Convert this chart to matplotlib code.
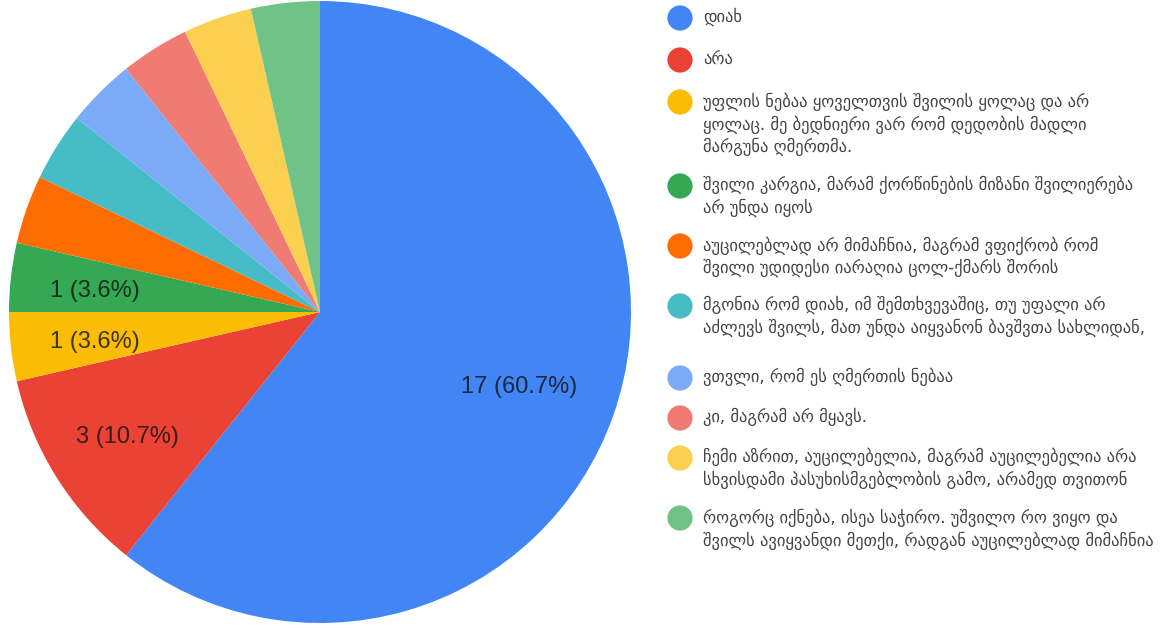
import numpy as np
import matplotlib
matplotlib.use('Agg')
from matplotlib import pyplot as plt

plt.rcParams['font.family'] = ['DejaVu Sans']

# მონაცემები
labels = [
    'დიახ',
    'არა',
    'უფლის ნებაა ყოველთვის შვილის ყოლაც და არ\nყოლაც. მე ბედნიერი ვარ რომ დედობის მადლი\nმარგუნა ღმერთმა.',
    'შვილი კარგია, მარამ ქორწინების მიზანი შვილიერება\nარ უნდა იყოს',
    'აუცილებლად არ მიმაჩნია, მაგრამ ვფიქრობ რომ\nშვილი უდიდესი იარაღია ცოლ-ქმარს შორის',
    'მგონია რომ დიახ, იმ შემთხვევაშიც, თუ უფალი არ\nაძლევს შვილს, მათ უნდა აიყვანონ ბავშვთა სახლიდან,',
    'ვთვლი, რომ ეს ღმერთის ნებაა',
    'კი, მაგრამ არ მყავს.',
    'ჩემი აზრით, აუცილებელია, მაგრამ აუცილებელია არა\nსხვისდამი პასუხისმგებლობის გამო, არამედ თვითონ',
    'როგორც იქნება, ისეა საჭირო. უშვილო რო ვიყო და\nშვილს ავიყვანდი მეთქი, რადგან აუცილებლად მიმაჩნია',
]
counts = [17, 3, 1, 1, 1, 1, 1, 1, 1, 1]
show_label = [True, True, True, True, False, False, False, False, False, False]
colors = ['#4285F4', '#EA4335', '#FBBC04', '#34A853', '#FF6D01',
          '#46BDC6', '#7BAAF7', '#F07B72', '#FCD04F', '#71C287']

W, H = 1173, 628
fig = plt.figure(figsize=(W / 100, H / 100), dpi=100)

# ტორტი
cx, cy, r = 320, 316, 311
ax = fig.add_axes([(cx - r) / W, (cy - r) / H, 2 * r / W, 2 * r / H])
wedges, _ = ax.pie(counts, colors=colors, startangle=90, counterclock=False,
                   radius=1.0, wedgeprops=dict(linewidth=0))
ax.set_xlim(-1, 1)
ax.set_ylim(-1, 1)
ax.set_aspect('equal')
ax.axis('off')

total = sum(counts)
for w, n, show in zip(wedges, counts, show_label):
    if not show:
        continue
    mid = np.deg2rad((w.theta1 + w.theta2) / 2)
    d = 0.68 if n / total > 0.5 else 0.73
    ax.text(d * np.cos(mid), d * np.sin(mid) - 0.015, '%d (%.1f%%)' % (n, 100 * n / total),
            ha='center', va='center', fontsize=17, family='Liberation Sans',
            color='#111111', alpha=0.8)

# ლეგენდა
lg = fig.add_axes([0, 0, 1, 1])
lg.set_xlim(0, W)
lg.set_ylim(H, 0)
lg.axis('off')
legend_y = [18, 60, 102, 186, 246, 306, 378, 418, 458, 518]
for lab, c, y in zip(labels, colors, legend_y):
    lg.scatter([680], [y], s=330, color=c, edgecolors='none')
    lg.text(703, y - 10, lab, ha='left', va='top', fontsize=11.9, color='#444444',
            linespacing=1.3)

fig.savefig('out.png', dpi=100)
